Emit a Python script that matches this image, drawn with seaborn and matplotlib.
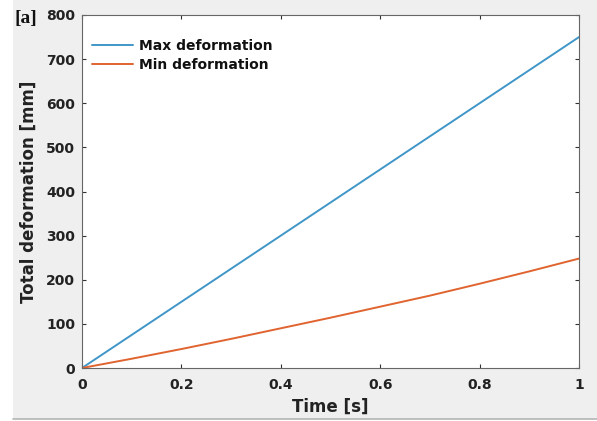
import numpy as np
import pandas as pd
import seaborn as sns
import matplotlib
matplotlib.use("Agg")
import matplotlib.pyplot as plt
from matplotlib.patches import Rectangle
from matplotlib.lines import Line2D

time_s = [0.0, 0.1, 0.2, 0.3, 0.4, 0.5, 0.6, 0.7, 0.8, 0.9, 1.0]
max_def = [0, 75, 150, 225, 300, 375, 450, 525, 600, 675, 750]
min_def = [0, 21, 43, 66, 90, 114, 139, 164, 191, 219, 248]
series_names = ["Max deformation", "Min deformation"]
x_ticks = [0, 0.2, 0.4, 0.6, 0.8, 1]
x_tick_labels = ["0", "0.2", "0.4", "0.6", "0.8", "1"]
y_ticks = [0, 100, 200, 300, 400, 500, 600, 700, 800]

df = pd.concat([
    pd.DataFrame({"t": time_s, "v": max_def, "s": series_names[0]}),
    pd.DataFrame({"t": time_s, "v": min_def, "s": series_names[1]}),
])

sns.set_theme(style="white")
plt.rcParams["font.family"] = ["DejaVu Sans"]

W, H = 597, 421
fig = plt.figure(figsize=(W / 100, H / 100), dpi=100, facecolor="white")
# gray figure panel (screenshot area)
fig.patches.append(Rectangle((13 / W, 1 - 419 / H), 1 - 13 / W, 419 / H,
                             transform=fig.transFigure, facecolor="#efefef",
                             edgecolor="none", zorder=-10))
fig.lines.append(Line2D([13 / W, 1], [1 - 419 / H, 1 - 419 / H], transform=fig.transFigure,
                        color="#b5b5b5", linewidth=1.2))

ax = fig.add_axes([82 / W, 1 - 368 / H, (579 - 82) / W, (368 - 15) / H])
ax.set_facecolor("white")

palette = {series_names[0]: "#4096c8", series_names[1]: "#e0642f"}
sns.lineplot(data=df, x="t", y="v", hue="s", palette=palette, linewidth=1.4, ax=ax)

ax.set_xlim(0, 1)
ax.set_ylim(0, 800)
ax.set_xticks(x_ticks)
ax.set_xticklabels(x_tick_labels)
ax.set_yticks(y_ticks)
ax.tick_params(axis="both", direction="in", length=3, width=0.8, color="#333333",
               labelsize=10, top=True, right=True, bottom=True, left=True)
ax.tick_params(axis="x", pad=7)
ax.tick_params(axis="y", pad=5)
for lab in ax.get_xticklabels() + ax.get_yticklabels():
    lab.set_fontweight("bold")
    lab.set_color("#222222")
for sp in ax.spines.values():
    sp.set_color("#666666")
    sp.set_linewidth(0.8)

ax.set_xlabel("Time [s]", fontsize=12, fontweight="bold", color="#222222", labelpad=4)
ax.set_ylabel("Total deformation [mm]", fontsize=12, fontweight="bold", color="#222222", labelpad=6)

leg = ax.legend(loc="upper left", frameon=False, fontsize=10, handlelength=3.0,
                handletextpad=0.4, borderaxespad=0.3, labelspacing=0.35,
                bbox_to_anchor=(0.0, 0.96))
for t in leg.get_texts():
    t.set_fontweight("bold")
    t.set_color("#111111")

fig.text(15 / W, 1 - 18 / H, "[a]", fontsize=14, fontweight="bold",
         family=["Liberation Serif", "DejaVu Serif"], color="#111111", va="center")

fig.savefig("out.png", dpi=100, facecolor=fig.get_facecolor())
